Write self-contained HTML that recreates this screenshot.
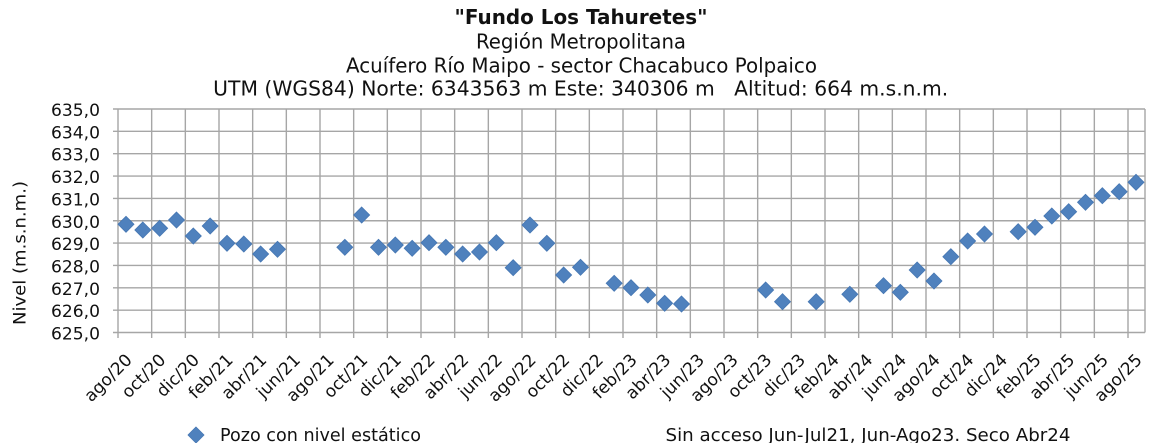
<!DOCTYPE html>
<html><head><meta charset="utf-8"><style>
html,body{margin:0;padding:0;background:#fff;}
svg{display:block;}
text{font-family:"DejaVu Sans","Liberation Sans",sans-serif;fill:#111;}
</style></head><body>
<svg width="1152" height="443" viewBox="0 0 1152 443" xmlns="http://www.w3.org/2000/svg">
<rect width="1152" height="443" fill="#fff"/>
<!-- titles -->
<text x="581" y="24" font-size="20" font-weight="bold" text-anchor="middle" textLength="253" lengthAdjust="spacingAndGlyphs">"Fundo Los Tahuretes"</text>
<text x="581" y="48.3" font-size="20" text-anchor="middle" textLength="210" lengthAdjust="spacingAndGlyphs">Región Metropolitana</text>
<text x="581.5" y="72.3" font-size="20" text-anchor="middle" textLength="471" lengthAdjust="spacingAndGlyphs">Acuífero Río Maipo - sector Chacabuco Polpaico</text>
<text x="580.7" y="95.7" font-size="20" text-anchor="middle" textLength="735" lengthAdjust="spacingAndGlyphs" xml:space="preserve">UTM (WGS84) Norte: 6343563 m Este: 340306 m   Altitud: 664 m.s.n.m.</text>
<!-- grid -->
<g stroke="#a6a6a6" stroke-width="1.4" fill="none">
<path d="M113,109H1145 M113,131.35H1145 M113,153.7H1145 M113,176.05H1145 M113,198.4H1145 M113,220.75H1145 M113,243.1H1145 M113,265.45H1145 M113,287.8H1145 M113,310.15H1145 M113,332.5H1145"/>
<path d="M118,109V338 M151.67,109V338 M185.33,109V338 M219,109V338 M252.67,109V338 M286.33,109V338 M320,109V338 M353.67,109V338 M387.33,109V338 M421,109V338 M454.67,109V338 M488.33,109V338 M522,109V338 M555.67,109V338 M589.33,109V338 M623,109V338 M656.67,109V338 M690.33,109V338 M724,109V338 M757.67,109V338 M791.33,109V338 M825,109V338 M858.67,109V338 M892.33,109V338 M926,109V338 M959.67,109V338 M993.33,109V338 M1027,109V338 M1060.67,109V338 M1094.33,109V338 M1128,109V338 M1145,109V332.5"/>
</g>
<!-- y labels -->
<g font-size="16.5" text-anchor="end">
<text x="100" y="116" textLength="49" lengthAdjust="spacingAndGlyphs">635,0</text>
<text x="100" y="138.35" textLength="49" lengthAdjust="spacingAndGlyphs">634,0</text>
<text x="100" y="160.7" textLength="49" lengthAdjust="spacingAndGlyphs">633,0</text>
<text x="100" y="183.05" textLength="49" lengthAdjust="spacingAndGlyphs">632,0</text>
<text x="100" y="205.4" textLength="49" lengthAdjust="spacingAndGlyphs">631,0</text>
<text x="100" y="227.75" textLength="49" lengthAdjust="spacingAndGlyphs">630,0</text>
<text x="100" y="250.1" textLength="49" lengthAdjust="spacingAndGlyphs">629,0</text>
<text x="100" y="272.45" textLength="49" lengthAdjust="spacingAndGlyphs">628,0</text>
<text x="100" y="294.8" textLength="49" lengthAdjust="spacingAndGlyphs">627,0</text>
<text x="100" y="317.15" textLength="49" lengthAdjust="spacingAndGlyphs">626,0</text>
<text x="100" y="339.5" textLength="49" lengthAdjust="spacingAndGlyphs">625,0</text>
</g>
<!-- y title -->
<text transform="translate(25.5,253) rotate(-90)" font-size="17" text-anchor="middle" textLength="144" lengthAdjust="spacingAndGlyphs">Nivel (m.s.n.m.)</text>
<!-- x labels -->
<g font-size="17" text-anchor="end">
<text transform="translate(133,361) rotate(-45)">ago/20</text>
<text transform="translate(166.67,361) rotate(-45)">oct/20</text>
<text transform="translate(200.33,361) rotate(-45)">dic/20</text>
<text transform="translate(234,361) rotate(-45)">feb/21</text>
<text transform="translate(267.67,361) rotate(-45)">abr/21</text>
<text transform="translate(301.33,361) rotate(-45)">jun/21</text>
<text transform="translate(335,361) rotate(-45)">ago/21</text>
<text transform="translate(368.67,361) rotate(-45)">oct/21</text>
<text transform="translate(402.33,361) rotate(-45)">dic/21</text>
<text transform="translate(436,361) rotate(-45)">feb/22</text>
<text transform="translate(469.67,361) rotate(-45)">abr/22</text>
<text transform="translate(503.33,361) rotate(-45)">jun/22</text>
<text transform="translate(537,361) rotate(-45)">ago/22</text>
<text transform="translate(570.67,361) rotate(-45)">oct/22</text>
<text transform="translate(604.33,361) rotate(-45)">dic/22</text>
<text transform="translate(638,361) rotate(-45)">feb/23</text>
<text transform="translate(671.67,361) rotate(-45)">abr/23</text>
<text transform="translate(705.33,361) rotate(-45)">jun/23</text>
<text transform="translate(739,361) rotate(-45)">ago/23</text>
<text transform="translate(772.67,361) rotate(-45)">oct/23</text>
<text transform="translate(806.33,361) rotate(-45)">dic/23</text>
<text transform="translate(840,361) rotate(-45)">feb/24</text>
<text transform="translate(873.67,361) rotate(-45)">abr/24</text>
<text transform="translate(907.33,361) rotate(-45)">jun/24</text>
<text transform="translate(941,361) rotate(-45)">ago/24</text>
<text transform="translate(974.67,361) rotate(-45)">oct/24</text>
<text transform="translate(1008.33,361) rotate(-45)">dic/24</text>
<text transform="translate(1042,361) rotate(-45)">feb/25</text>
<text transform="translate(1075.67,361) rotate(-45)">abr/25</text>
<text transform="translate(1109.33,361) rotate(-45)">jun/25</text>
<text transform="translate(1143,361) rotate(-45)">ago/25</text>
</g>
<!-- markers -->
<path fill="#4f81bd" stroke="#4677b3" stroke-width="0.8" d="
M126,216.3l8,8l-8,8l-8,-8z
M142.83,222l8,8l-8,8l-8,-8z
M159.67,220.3l8,8l-8,8l-8,-8z
M176.5,212l8,8l-8,8l-8,-8z
M193.33,228l8,8l-8,8l-8,-8z
M210.17,218l8,8l-8,8l-8,-8z
M227,235.3l8,8l-8,8l-8,-8z
M243.83,236l8,8l-8,8l-8,-8z
M260.67,246l8,8l-8,8l-8,-8z
M277.5,241.3l8,8l-8,8l-8,-8z
M344.83,239.3l8,8l-8,8l-8,-8z
M361.67,207l8,8l-8,8l-8,-8z
M378.5,239.3l8,8l-8,8l-8,-8z
M395.33,237l8,8l-8,8l-8,-8z
M412.17,240.3l8,8l-8,8l-8,-8z
M429,234.7l8,8l-8,8l-8,-8z
M445.83,239.3l8,8l-8,8l-8,-8z
M462.67,246l8,8l-8,8l-8,-8z
M479.5,244l8,8l-8,8l-8,-8z
M496.33,234.7l8,8l-8,8l-8,-8z
M513.17,259.7l8,8l-8,8l-8,-8z
M530,217l8,8l-8,8l-8,-8z
M546.83,235.3l8,8l-8,8l-8,-8z
M563.67,267l8,8l-8,8l-8,-8z
M580.5,259.3l8,8l-8,8l-8,-8z
M614.17,275.3l8,8l-8,8l-8,-8z
M631,279.7l8,8l-8,8l-8,-8z
M647.83,287l8,8l-8,8l-8,-8z
M664.67,295.3l8,8l-8,8l-8,-8z
M681.5,296l8,8l-8,8l-8,-8z
M765.67,282l8,8l-8,8l-8,-8z
M782.5,293.7l8,8l-8,8l-8,-8z
M816.17,293.7l8,8l-8,8l-8,-8z
M849.83,286.3l8,8l-8,8l-8,-8z
M883.5,277.7l8,8l-8,8l-8,-8z
M900.33,284.3l8,8l-8,8l-8,-8z
M917.17,262l8,8l-8,8l-8,-8z
M934,273l8,8l-8,8l-8,-8z
M950.83,248.7l8,8l-8,8l-8,-8z
M967.67,233l8,8l-8,8l-8,-8z
M984.5,226l8,8l-8,8l-8,-8z
M1018.17,223.7l8,8l-8,8l-8,-8z
M1035,219.3l8,8l-8,8l-8,-8z
M1051.83,208l8,8l-8,8l-8,-8z
M1068.67,203.7l8,8l-8,8l-8,-8z
M1085.5,194.3l8,8l-8,8l-8,-8z
M1102.33,187.7l8,8l-8,8l-8,-8z
M1119.17,183.7l8,8l-8,8l-8,-8z
M1136,174.3l8,8l-8,8l-8,-8z
"/>
<!-- legend -->
<path fill="#4f81bd" stroke="#4677b3" stroke-width="0.8" d="M196,427l8,8l-8,8l-8,-8z"/>
<text x="220" y="441" font-size="18" textLength="201" lengthAdjust="spacingAndGlyphs">Pozo con nivel estático</text>
<text x="665.5" y="441" font-size="18" textLength="405" lengthAdjust="spacingAndGlyphs">Sin acceso Jun-Jul21, Jun-Ago23. Seco Abr24</text>
</svg>
</body></html>
